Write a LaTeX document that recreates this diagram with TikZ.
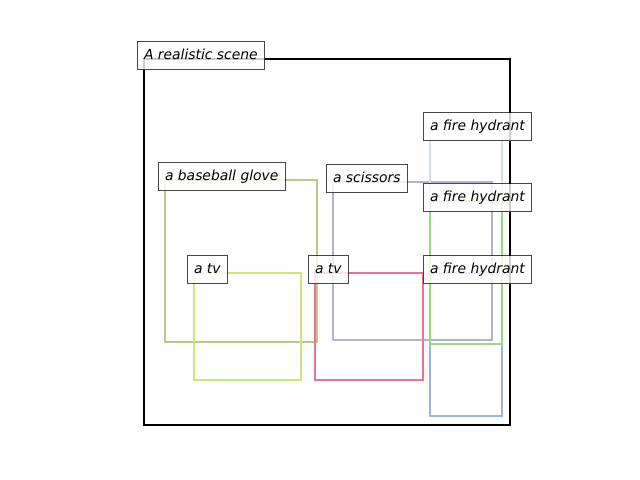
\documentclass[tikz,border=0pt]{standalone}
\usepackage{fontspec}
\newfontfamily\lblfont{DejaVu Sans}
\definecolor{cglove}{RGB}{188,200,135}
\definecolor{cscis}{RGB}{178,178,212}
\definecolor{ctvl}{RGB}{200,232,122}
\definecolor{ctvr}{RGB}{238,112,150}
\definecolor{cfha}{RGB}{210,222,226}
\definecolor{cfhb}{RGB}{158,180,220}
\definecolor{cfhc}{RGB}{152,216,128}
\tikzset{
  bx/.style={line width=1.6pt},
  frame/.style={line width=1.9pt, draw=black},
  lbl/.style={draw=black, fill=white, fill opacity=0.8, draw opacity=0.72, text opacity=1,
    inner xsep=5pt, inner ysep=5pt, outer sep=0pt, text height=7.6pt, text depth=2.6pt,
    anchor=base west, font=\lblfont\itshape\fontsize{10}{12}\selectfont, line width=0.7pt}
}
\begin{document}
\begin{tikzpicture}[x=0.72pt, y=-0.72pt]
\useasboundingbox (0,0) rectangle (640,480);
% frame
\draw[frame] (144,59) rectangle (510,425);
% boxes
\draw[bx, cglove] (165,180) rectangle (317,342);
\draw[bx, cscis] (333,182) rectangle (492,340);
\draw[bx, ctvl] (194,273) rectangle (301,380);
\draw[bx, ctvr] (315,273) rectangle (423,380);
\draw[bx, cfha] (430,130) rectangle (502,416);
\draw[bx, cfhb] (430,273) rectangle (502,416);
\draw[bx, cfhc] (430,201) rectangle (502,344);
% labels
\node[lbl] (scene) at ([xshift=-5pt]144,59) {A realistic scene};
\node[lbl] (glove) at ([xshift=-5pt]165,180) {a baseball glove};
\node[lbl] (scis) at ([xshift=-5pt]333,182) {a scissors};
\node[lbl] (tvl) at ([xshift=-5pt]194,273) {a tv};
\node[lbl] (tvr) at ([xshift=-5pt]315,273) {a tv};
\node[lbl] (fha) at ([xshift=-5pt]430,130) {a fire hydrant};
\node[lbl] (fhc) at ([xshift=-5pt]430,201) {a fire hydrant};
\node[lbl] (fhb) at ([xshift=-5pt]430,273) {a fire hydrant};
\end{tikzpicture}
\end{document}
